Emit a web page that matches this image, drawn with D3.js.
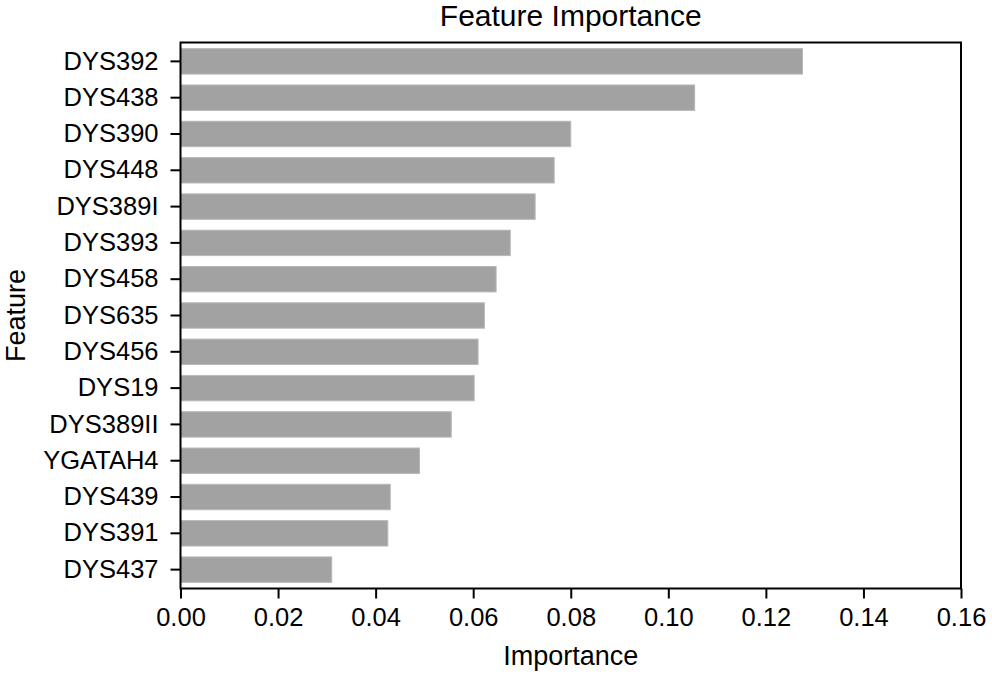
<!DOCTYPE html>
<meta charset="utf-8">
<style>
body{margin:0;background:#fff;}
text{font-family:"Liberation Sans",Arial,sans-serif;fill:#000;}
.axis text{font-size:25.5px;}
.axis path,.axis line{stroke:#000;stroke-width:2px;}
</style>
<body>
<script src="https://d3js.org/d3.v7.min.js"></script>
<script>

var features=["DYS392","DYS438","DYS390","DYS448","DYS389I","DYS393","DYS458","DYS635","DYS456","DYS19","DYS389II","YGATAH4","DYS439","DYS391","DYS437"];
var importance=[0.1275,0.1054,0.0800,0.0766,0.0727,0.0676,0.0647,0.0623,0.0610,0.0602,0.0555,0.0490,0.0430,0.0425,0.0310];
var xTicks=[0,0.02,0.04,0.06,0.08,0.10,0.12,0.14,0.16];

var W=992,H=674;
var m={top:42.5,right:31,bottom:85.5,left:180.5};
var iw=W-m.left-m.right, ih=H-m.top-m.bottom;

var svg=d3.select("body").append("svg").attr("width",W).attr("height",H);
var g=svg.append("g").attr("transform","translate("+m.left+","+m.top+")");

var x=d3.scaleLinear().domain([0,0.16]).range([0,iw]);
var y=d3.scaleBand().domain(features).range([0,ih]).paddingInner(0.3).paddingOuter(0.17);

g.selectAll("rect.bar").data(features).join("rect").attr("class","bar")
  .attr("x",0)
  .attr("y",d=>y(d))
  .attr("width",(d,i)=>x(importance[i]))
  .attr("height",y.bandwidth())
  .attr("fill","#a2a2a2")
  .attr("stroke","#b8b8b8")
  .attr("stroke-width",1);

// frame
g.append("rect").attr("width",iw).attr("height",ih)
  .attr("fill","none").attr("stroke","#000").attr("stroke-width",2);

g.append("g").attr("class","axis")
  .attr("transform","translate(0,"+ih+")")
  .call(d3.axisBottom(x).tickValues(xTicks).tickFormat(d3.format(".2f")).tickSize(10).tickPadding(9))
  .call(a=>a.select(".domain").remove());

g.append("g").attr("class","axis")
  .call(d3.axisLeft(y).tickSize(10).tickPadding(12))
  .call(a=>a.select(".domain").remove());

svg.append("text").attr("x",m.left+iw/2).attr("y",26)
  .attr("text-anchor","middle").style("font-size","30px").text("Feature Importance");

svg.append("text").attr("x",m.left+iw/2).attr("y",665)
  .attr("text-anchor","middle").style("font-size","27px").text("Importance");

svg.append("text").attr("transform","translate(25,"+(m.top+ih/2)+") rotate(-90)")
  .attr("text-anchor","middle").style("font-size","27px").text("Feature");

</script>
</body>
